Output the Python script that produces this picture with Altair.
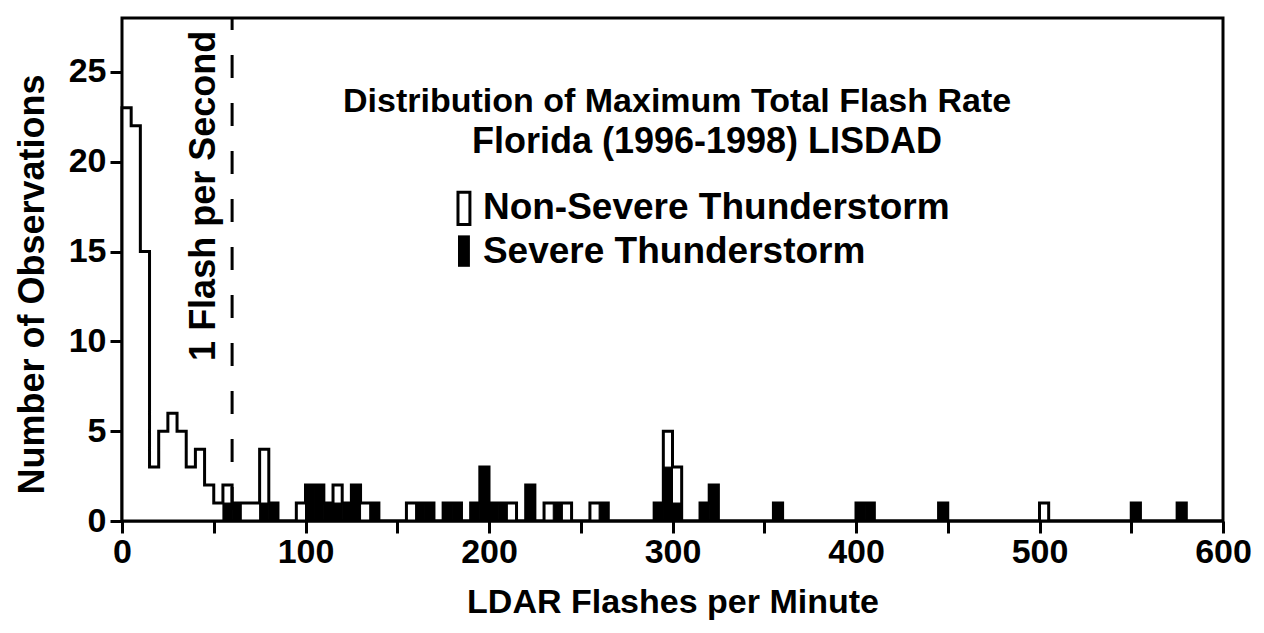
import altair as alt
import pandas as pd

# ---------------- data ----------------
BIN_WIDTH = 5
X_MAX = 600
Y_MAX = 28

# Non-severe thunderstorms: bin start (flashes/min) and count
non_severe_bins = [0, 5, 10, 15, 20, 25, 30, 35, 40, 45, 50, 55, 65, 70, 75,
                   95, 115, 130, 155, 210, 230, 240, 255, 295, 300, 500]
non_severe_counts = [23, 22, 15, 3, 5, 6, 5, 3, 4, 2, 1, 1, 1, 1, 3,
                     1, 1, 1, 1, 1, 1, 1, 1, 2, 2, 1]

# Severe thunderstorms: bin start and count
severe_bins = [55, 60, 75, 80, 100, 105, 110, 115, 120, 125, 135, 160, 165,
               175, 180, 190, 195, 200, 205, 220, 235, 260, 290, 295, 300,
               315, 320, 355, 400, 405, 445, 550, 575]
severe_counts = [1, 1, 1, 1, 2, 2, 1, 1, 1, 2, 1, 1, 1,
                 1, 1, 1, 3, 1, 1, 2, 1, 1, 1, 3, 1,
                 1, 2, 1, 1, 1, 1, 1, 1]

x_tick_values = list(range(0, 601, 50))
y_tick_values = [0, 5, 10, 15, 20, 25]
one_flash_per_second = [60]

title_lines = ["Distribution of Maximum Total Flash Rate",
               "Florida (1996-1998) LISDAD"]
legend_labels = ["Non-Severe Thunderstorm", "Severe Thunderstorm"]
marker_label = "1 Flash per Second"

# ---------------- tables ----------------
starts = list(range(0, X_MAX + BIN_WIDTH, BIN_WIDTH))
ns_map = dict(zip(non_severe_bins, non_severe_counts))
sv_map = dict(zip(severe_bins, severe_counts))
outline_df = pd.DataFrame({
    "bin_lo": starts,
    "total": [ns_map.get(s, 0) + sv_map.get(s, 0) for s in starts],
})
severe_df = pd.DataFrame({"sv_lo": severe_bins, "sv_n": severe_counts})
severe_df["sv_hi"] = severe_df["sv_lo"] + BIN_WIDTH
severe_df["sv_base"] = 0
rule_df = pd.DataFrame({"xr": one_flash_per_second})

FONT = "Liberation Sans"
FS = 34
LW = 3

x_scale = alt.Scale(domain=[0, X_MAX], nice=False, zero=False)
y_scale = alt.Scale(domain=[0, Y_MAX], nice=False)

x_axis = alt.Axis(
    title="LDAR Flashes per Minute", values=x_tick_values,
    labelExpr="datum.value % 100 === 0 ? datum.label : ''",
    grid=False, domain=False, tickSize=12, tickWidth=LW, tickColor="black",
    labelFont=FONT, labelFontSize=FS, labelFontWeight="bold", labelColor="black",
    labelPadding=2, labelFlush=False, labelOverlap=False,
    titleFont=FONT, titleFontSize=FS, titleFontWeight="bold", titleColor="black",
    titleY=91, titleBaseline="alphabetic",
)
y_axis = alt.Axis(
    title="Number of Observations", values=y_tick_values,
    grid=False, domain=False, tickSize=12, tickWidth=LW, tickColor="black",
    labelFont=FONT, labelFontSize=FS, labelFontWeight="bold", labelColor="black",
    labelPadding=4, labelOverlap=False,
    titleFont=FONT, titleFontSize=36, titleFontWeight="bold", titleColor="black",
    titleAngle=270, titleX=-79, titleY=266, titleBaseline="alphabetic",
    titleAlign="center",
)

outline = alt.Chart(outline_df).mark_area(
    interpolate="step-after", fill="white", stroke="black",
    strokeWidth=LW, strokeJoin="miter",
).encode(
    x=alt.X("bin_lo:Q", scale=x_scale, axis=x_axis),
    y=alt.Y("total:Q", scale=y_scale, axis=y_axis),
)

severe = alt.Chart(severe_df).mark_rect(fill="black", stroke="black", strokeWidth=1).encode(
    x=alt.X("sv_lo:Q", scale=x_scale),
    x2=alt.X2("sv_hi"),
    y=alt.Y("sv_n:Q", scale=y_scale),
    y2=alt.Y2("sv_base"),
)

rule = alt.Chart(rule_df).mark_rule(
    color="black", strokeWidth=LW, strokeDash=[23, 25], strokeDashOffset=11,
).encode(x=alt.X("xr:Q", scale=x_scale))


def style(size):
    return dict(font=FONT, fontSize=size, fontWeight="bold", color="black")


title1 = alt.Chart().mark_text(align="center", baseline="middle", **style(34)).encode(
    x=alt.datum(302.5), y=alt.datum(23.3), text=alt.value(title_lines[0]))
title2 = alt.Chart().mark_text(align="center", baseline="middle", **style(36)).encode(
    x=alt.datum(318.8), y=alt.datum(21.1), text=alt.value(title_lines[1]))

leg_box1 = alt.Chart().mark_rect(fill="white", stroke="black", strokeWidth=LW).encode(
    x=alt.datum(183.1), x2=alt.datum(189.6), y=alt.datum(18.3), y2=alt.datum(16.5))
leg_box2 = alt.Chart().mark_rect(fill="black").encode(
    x=alt.datum(183.1), x2=alt.datum(189.6), y=alt.datum(15.9), y2=alt.datum(14.15))
leg_text1 = alt.Chart().mark_text(align="left", baseline="middle", **style(37)).encode(
    x=alt.datum(196.7), y=alt.datum(17.4), text=alt.value(legend_labels[0]))
leg_text2 = alt.Chart().mark_text(align="left", baseline="middle", **style(37)).encode(
    x=alt.datum(196.7), y=alt.datum(15.0), text=alt.value(legend_labels[1]))

marker_text = alt.Chart().mark_text(align="center", baseline="middle", angle=270,
                                    **style(36)).encode(
    x=alt.datum(44.5), y=alt.datum(18.1), text=alt.value(marker_label))

chart = alt.layer(
    outline, severe, rule, title1, title2, leg_box1, leg_box2,
    leg_text1, leg_text2, marker_text,
).properties(
    width=1101, height=503,
    autosize=alt.AutoSizeParams(type="none"),
    padding={"left": 114, "top": 10, "right": 30, "bottom": 104},
).configure_view(stroke="black", strokeWidth=3)

chart.save("out.html", embed_options={"renderer": "svg", "actions": False})
